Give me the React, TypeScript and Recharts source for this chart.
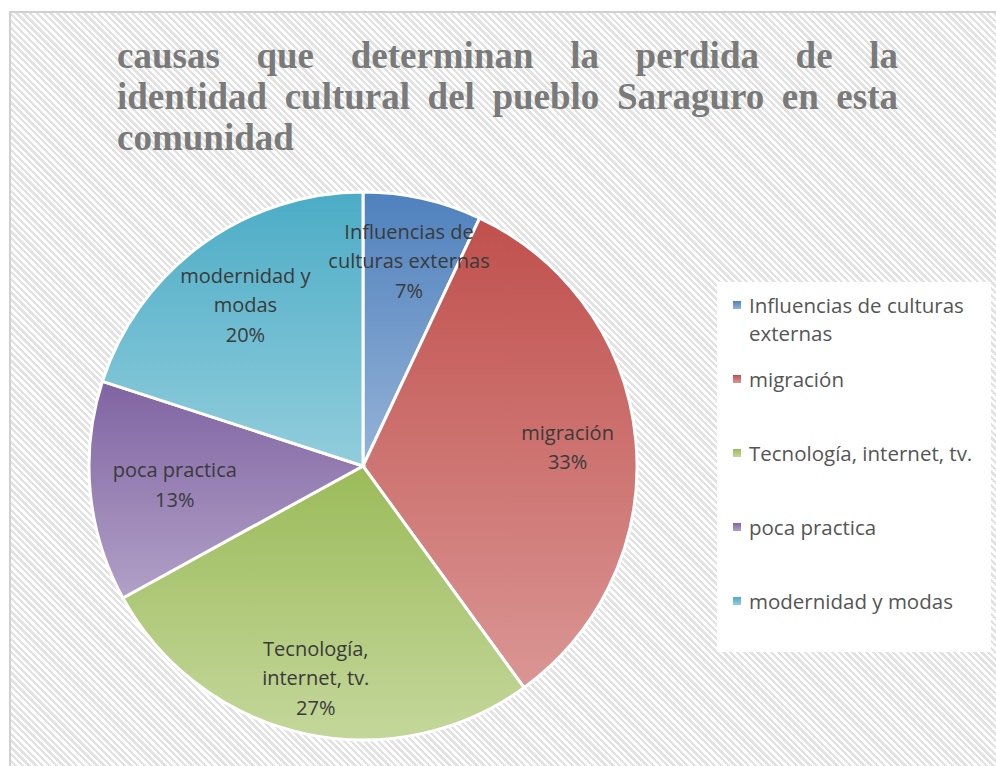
import React from "react";
import { PieChart, Pie, Cell, Legend } from "recharts";

const categories = [
  "Influencias de culturas externas",
  "migración",
  "Tecnología, internet, tv.",
  "poca practica",
  "modernidad y modas",
];
const values = [7, 33, 27, 13, 20];
const labelLines = [
  ["Influencias de", "culturas externas"],
  ["migración"],
  ["Tecnología,", "internet, tv."],
  ["poca practica"],
  ["modernidad y", "modas"],
];
const titleLines = [
  "causas que determinan la perdida de la",
  "identidad cultural del pueblo Saraguro en esta",
  "comunidad",
];

const darkColors = ["#4F81BD", "#C0504D", "#9BBB59", "#8064A2", "#4BACC6"];
const lightColors = ["#95B3D7", "#DA9694", "#C4D79B", "#B1A0C7", "#92CDDC"];
const labelRadius = [0.77, 0.75, 0.79, 0.69, 0.73];

const data = categories.map((name, i) => ({ name, value: values[i] }));
const total = values.reduce((a, b) => a + b, 0);

const RAD = Math.PI / 180;
const FONT = "'Open Sans', Lato, sans-serif";

const renderLabel = (props: any) => {
  const { cx, cy, midAngle, outerRadius, index, value } = props;
  const r = outerRadius * labelRadius[index];
  const x = cx + r * Math.cos(-midAngle * RAD);
  const y = cy + r * Math.sin(-midAngle * RAD);
  const lines = [...labelLines[index], `${Math.round((value / total) * 100)}%`];
  const lh = 29.5;
  const startY = y - ((lines.length - 1) * lh) / 2;
  return (
    <text
      x={x}
      y={startY}
      textAnchor="middle"
      fill="#3a3a3a"
      fontSize={20}
      fontFamily={FONT}
      dominantBaseline="central"
    >
      {lines.map((l, i) => (
        <tspan key={i} x={x} y={startY + i * lh} dominantBaseline="central">
          {l}
        </tspan>
      ))}
    </text>
  );
};

const renderLegend = () => (
  <div
    style={{
      width: 274,
      height: 370,
      background: "#ffffff",
      position: "relative",
      fontFamily: FONT,
      fontSize: 20.5,
      color: "#555555",
    }}
  >
    {categories.map((c, i) => (
      <div
        key={c}
        style={{
          position: "absolute",
          left: 16,
          top: 9 + i * 74,
          display: "flex",
          alignItems: "flex-start",
          lineHeight: "28px",
        }}
      >
        <svg width={8} height={8} style={{ marginTop: 10, marginRight: 8, flex: "none" }}>
          <rect width={8} height={8} fill={`url(#lg${i})`} />
        </svg>
        <span style={{ width: 228 }}>{c}</span>
      </div>
    ))}
  </div>
);

export default function App() {
  return (
    <div style={{ position: "absolute", left: 0, top: 0, width: 996, height: 766, overflow: "hidden" }}>
      <div
        style={{
          position: "absolute",
          left: 9,
          top: 11,
          width: 987,
          height: 755,
          boxSizing: "border-box",
          borderLeft: "2px solid #d0d0d0",
          borderTop: "2px solid #d0d0d0",
          background: "repeating-linear-gradient(45deg, #ffffff 0px, #ffffff 2.4px, #e2e2e2 2.4px, #e2e2e2 4.8px)",
        }}
      />
      <div
        style={{
          position: "absolute",
          left: 117,
          top: 35,
          width: 781,
          fontFamily: "'Liberation Serif', 'Times New Roman', serif",
          fontWeight: "bold",
          fontSize: 37,
          lineHeight: "41px",
          color: "#7A7A7A",
        }}
      >
        {titleLines.map((t, i) => (
          <div
            key={i}
            style={{
              textAlign: i < titleLines.length - 1 ? "justify" : "left",
              textAlignLast: i < titleLines.length - 1 ? "justify" : "left",
              whiteSpace: "nowrap",
            }}
          >
            {t}
          </div>
        ))}
      </div>
      <div style={{ position: "absolute", left: 0, top: 0 }}>
        <PieChart width={996} height={766} margin={{ top: 0, right: 0, bottom: 0, left: 0 }}>
          <defs>
            {darkColors.map((c, i) => (
              <linearGradient key={i} id={`g${i}`} x1="0" y1="0" x2="0" y2="1">
                <stop offset="0%" stopColor={c} />
                <stop offset="100%" stopColor={lightColors[i]} />
              </linearGradient>
            ))}
            {darkColors.map((c, i) => (
              <linearGradient key={"l" + i} id={`lg${i}`} x1="0" y1="0" x2="0" y2="1">
                <stop offset="0%" stopColor={c} />
                <stop offset="100%" stopColor={lightColors[i]} />
              </linearGradient>
            ))}
          </defs>
          <Pie
            data={data}
            dataKey="value"
            nameKey="name"
            cx={363}
            cy={466}
            outerRadius={274}
            startAngle={90}
            endAngle={-270}
            stroke="#ffffff"
            strokeWidth={3}
            label={renderLabel}
            labelLine={false}
            isAnimationActive={false}
          >
            {data.map((d, i) => (
              <Cell key={d.name} fill={`url(#g${i})`} />
            ))}
          </Pie>
          <Legend
            content={renderLegend}
            wrapperStyle={{ position: "absolute", left: 717, top: 282, width: 274, height: 370 }}
          />
        </PieChart>
      </div>
    </div>
  );
}
